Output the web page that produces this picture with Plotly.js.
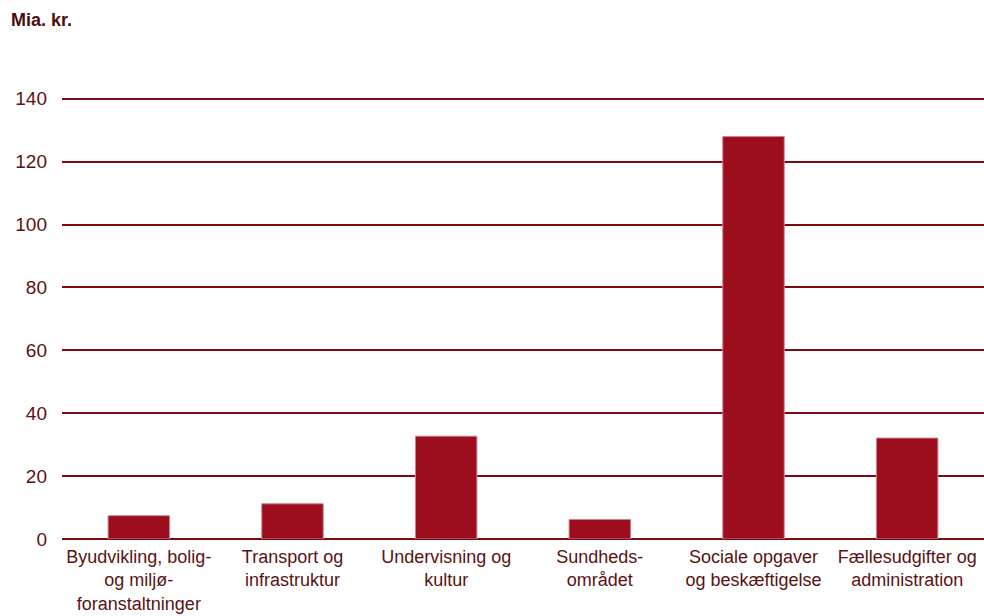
<!DOCTYPE html>
<html>
<head>
<meta charset="utf-8">
<script src="https://cdn.plot.ly/plotly-3.0.1.min.js"></script>
<style>html,body{margin:0;padding:0;background:#fff;}#chart{width:984px;height:616px;}</style>
</head>
<body>
<div id="chart"></div>
<script>
const categories = [
  "Byudvikling, bolig-<br>og miljø-<br>foranstaltninger",
  "Transport og<br>infrastruktur",
  "Undervisning og<br>kultur",
  "Sundheds-<br>området",
  "Sociale opgaver<br>og beskæftigelse",
  "Fællesudgifter og<br>administration"
];
const values = [7.4, 11.2, 32.7, 6.2, 128.0, 32.1];
const yTicks = [0, 20, 40, 60, 80, 100, 120, 140];
const unitLabel = "Mia. kr.";

const textColor = "#5a1212";
const gridColor = "#7a0b0f";
const FONT = "Liberation Sans, Arial, sans-serif";

Plotly.newPlot("chart", [{
  type: "bar",
  x: categories,
  y: values,
  width: 0.4,
  marker: { color: "#9c0d1e", line: { color: "#c9848d", width: 1 } },
  hoverinfo: "skip"
}], {
  width: 984, height: 616,
  margin: { l: 62, r: 0, t: 96, b: 77 },
  paper_bgcolor: "#fff", plot_bgcolor: "#fff",
  font: { family: FONT, size: 18, color: textColor },
  showlegend: false,
  xaxis: {
    type: "category",
    showgrid: false, showline: false, zeroline: false,
    ticks: "", ticklabelstandoff: 5,
    tickfont: { size: 18, color: textColor, family: FONT }
  },
  yaxis: {
    range: [0, 140.9],
    tickvals: yTicks,
    ticktext: yTicks.map(String),
    showgrid: true, gridcolor: gridColor, gridwidth: 2,
    zeroline: true, zerolinecolor: gridColor, zerolinewidth: 2,
    showline: false, ticks: "",
    ticklabelstandoff: 14,
    tickfont: { size: 19, color: textColor, family: FONT }
  },
  annotations: [{
    text: "<b>" + unitLabel + "</b>",
    xref: "paper", yref: "paper", x: -53/922, y: (539 - 20) / 443,
    xanchor: "left", yanchor: "middle", showarrow: false,
    font: { size: 18, color: "#4a0d0d", family: FONT }
  }]
}, { displayModeBar: false, staticPlot: true });
</script>
</body>
</html>
